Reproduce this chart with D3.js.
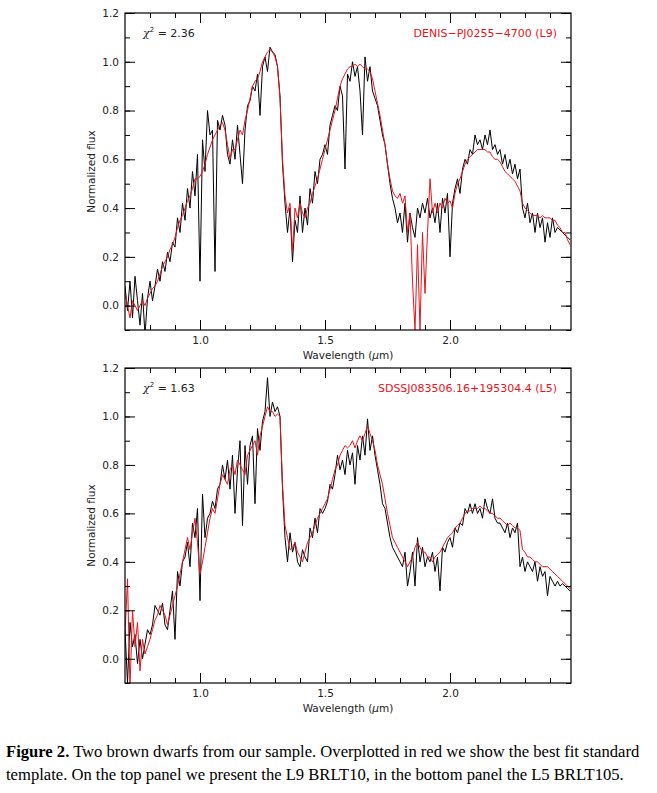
<!DOCTYPE html>
<html>
<head>
<meta charset="utf-8">
<script src="https://cdn.jsdelivr.net/npm/d3@7"></script>
<style>
  body { margin: 0; background: #fff; }
  svg text { font-family: "DejaVu Sans", sans-serif; }
  .caption { position: absolute; left: 6px; top: 740px; width: 651px; font-family: "Liberation Serif", serif; font-size: 16.6px; line-height: 23px; }
</style>
</head>
<body>
<svg id="chart" width="657" height="793"></svg>
<div class="caption"><b>Figure 2.</b> Two brown dwarfs from our sample. Overplotted in red we show the best fit standard template. On the top panel we present the L9 BRLT10, in the bottom panel the L5 BRLT105.</div>
<script>
// wavelength grid, 0.70 - 2.48 um in 0.01 steps
var wave = d3.range(179).map(function(i){ return +(0.70 + i * 0.01).toFixed(2); });

var topBlack = [
 0.08,-0.02,0.10,-0.05,0.12,0.02,-0.08,0.05,-0.12,0.03,
 0.10,0.02,0.08,0.15,0.10,0.18,0.14,0.22,0.18,0.26,
 0.24,0.36,0.30,0.42,0.35,0.48,0.40,0.55,0.45,0.62,
 0.10,0.68,0.55,0.80,0.70,0.72,0.14,0.76,0.72,0.78,
 0.74,0.62,0.58,0.68,0.60,0.74,0.62,0.50,0.72,0.82,
 0.84,0.90,0.88,0.95,0.78,0.98,1.02,0.96,1.06,1.04,
 1.03,0.98,0.86,0.58,0.42,0.30,0.40,0.18,0.35,0.30,
 0.45,0.30,0.40,0.33,0.48,0.42,0.55,0.50,0.60,0.62,
 0.66,0.62,0.74,0.78,0.82,0.80,0.90,0.86,0.56,0.95,
 0.92,1.00,0.94,0.98,0.88,0.70,1.02,0.92,0.98,0.88,
 0.85,0.82,0.76,0.70,0.66,0.58,0.50,0.44,0.40,0.34,
 0.38,0.30,0.42,0.26,0.38,0.32,0.28,0.40,0.36,0.42,
 0.38,0.44,0.36,0.40,0.34,0.42,0.30,0.44,0.38,0.46,
 0.20,0.42,0.48,0.52,0.46,0.56,0.60,0.58,0.64,0.62,
 0.70,0.66,0.68,0.64,0.70,0.66,0.72,0.64,0.66,0.62,
 0.64,0.58,0.62,0.56,0.60,0.54,0.58,0.52,0.56,0.40,
 0.36,0.42,0.34,0.38,0.30,0.38,0.32,0.36,0.26,0.34,
 0.28,0.36,0.30,0.32,0.31,0.30,0.29,0.28,0.27];

var topRed = [
 0.05,0.00,-0.05,0.02,0.00,-0.02,0.00,0.02,0.00,0.03,
 0.05,0.07,0.08,0.10,0.13,0.16,0.18,0.20,0.23,0.25,
 0.28,0.32,0.35,0.37,0.40,0.43,0.45,0.48,0.52,0.52,
 0.53,0.55,0.58,0.62,0.65,0.68,0.70,0.72,0.74,0.75,
 0.72,0.66,0.60,0.64,0.64,0.68,0.72,0.70,0.76,0.80,
 0.85,0.90,0.92,0.93,0.96,1.00,1.02,1.04,1.05,1.04,
 1.02,0.98,0.85,0.60,0.45,0.38,0.42,0.22,0.40,0.36,
 0.42,0.38,0.36,0.40,0.42,0.46,0.49,0.52,0.56,0.60,
 0.64,0.68,0.72,0.76,0.80,0.85,0.90,0.93,0.95,0.97,
 0.98,0.98,0.99,0.98,0.99,0.98,0.97,0.97,0.96,0.93,
 0.88,0.83,0.78,0.72,0.66,0.58,0.52,0.47,0.45,0.44,
 0.46,0.42,0.45,0.30,0.38,0.10,-0.10,0.25,-0.10,0.30,
 0.05,0.30,0.52,0.38,0.42,0.38,0.42,0.40,0.44,0.42,
 0.43,0.40,0.46,0.50,0.52,0.55,0.58,0.60,0.61,0.62,
 0.63,0.64,0.64,0.64,0.64,0.63,0.63,0.61,0.60,0.60,
 0.59,0.57,0.55,0.54,0.53,0.52,0.51,0.49,0.47,0.42,
 0.40,0.39,0.38,0.37,0.37,0.37,0.36,0.37,0.36,0.36,
 0.36,0.35,0.35,0.33,0.32,0.30,0.30,0.27,0.25];

var botBlack = [
 0.12,-0.10,0.15,0.05,0.10,-0.02,0.08,0.00,0.06,0.12,
 0.10,0.14,0.22,0.20,0.18,0.23,0.14,0.12,0.20,0.28,
 0.08,0.36,0.30,0.40,0.42,0.48,0.38,0.56,0.50,0.62,
 0.24,0.68,0.50,0.58,0.60,0.65,0.62,0.70,0.72,0.80,
 0.74,0.82,0.70,0.84,0.60,0.78,0.90,0.55,0.88,0.72,
 0.88,0.92,0.64,0.95,0.86,0.98,1.02,1.16,1.00,1.06,
 1.02,1.04,1.00,0.70,0.50,0.40,0.52,0.44,0.48,0.40,
 0.38,0.45,0.42,0.40,0.54,0.50,0.58,0.52,0.62,0.60,
 0.62,0.65,0.72,0.70,0.76,0.84,0.78,0.82,0.76,0.86,
 0.80,0.85,0.72,0.88,0.82,0.92,0.84,0.99,0.86,0.92,
 0.84,0.78,0.72,0.64,0.62,0.56,0.50,0.46,0.44,0.42,
 0.40,0.38,0.44,0.30,0.36,0.44,0.30,0.50,0.40,0.46,
 0.38,0.42,0.40,0.44,0.36,0.42,0.28,0.46,0.44,0.48,
 0.50,0.46,0.54,0.52,0.56,0.55,0.62,0.60,0.64,0.60,
 0.64,0.60,0.62,0.58,0.66,0.62,0.60,0.66,0.58,0.56,
 0.56,0.54,0.52,0.56,0.50,0.54,0.52,0.56,0.38,0.42,
 0.36,0.40,0.38,0.36,0.40,0.32,0.38,0.34,0.36,0.26,
 0.34,0.32,0.30,0.32,0.30,0.31,0.30,0.29,0.28];

var botRed = [
 0.10,0.33,-0.12,0.20,0.05,0.15,-0.05,0.08,0.02,0.05,
 0.08,0.12,0.16,0.18,0.22,0.20,0.18,0.14,0.18,0.22,
 0.26,0.30,0.35,0.40,0.45,0.50,0.45,0.52,0.58,0.48,
 0.35,0.40,0.46,0.52,0.58,0.62,0.60,0.66,0.72,0.76,
 0.74,0.72,0.78,0.80,0.76,0.82,0.80,0.78,0.76,0.84,
 0.86,0.88,0.90,0.84,0.92,0.96,1.00,1.04,1.02,1.02,
 1.00,1.01,1.00,0.72,0.55,0.50,0.45,0.46,0.48,0.44,
 0.42,0.40,0.44,0.48,0.50,0.52,0.55,0.58,0.60,0.62,
 0.64,0.66,0.70,0.74,0.78,0.80,0.84,0.86,0.88,0.87,
 0.88,0.90,0.87,0.90,0.92,0.90,0.93,0.96,0.93,0.90,
 0.86,0.80,0.76,0.72,0.66,0.60,0.55,0.50,0.48,0.46,
 0.44,0.42,0.40,0.38,0.40,0.42,0.46,0.48,0.46,0.44,
 0.44,0.42,0.42,0.40,0.42,0.43,0.44,0.46,0.48,0.50,
 0.51,0.52,0.54,0.55,0.56,0.58,0.60,0.61,0.61,0.62,
 0.62,0.62,0.63,0.62,0.62,0.61,0.60,0.60,0.59,0.58,
 0.58,0.57,0.56,0.55,0.56,0.55,0.54,0.54,0.53,0.45,
 0.44,0.42,0.42,0.41,0.40,0.40,0.39,0.38,0.38,0.38,
 0.37,0.36,0.35,0.34,0.33,0.32,0.31,0.30,0.29];

var xMajor = [1.0, 1.5, 2.0];
var yMajor = [0.0, 0.2, 0.4, 0.6, 0.8, 1.0, 1.2];

var panels = [
  { top: 13, bottom: 330, black: topBlack, red: topRed, chi: "2.36", name: "DENIS\u2212PJ0255\u22124700 (L9)" },
  { top: 368, bottom: 683, black: botBlack, red: botRed, chi: "1.63", name: "SDSSJ083506.16+195304.4 (L5)" }
];

var svg = d3.select("#chart");
var left = 125, right = 571;
var x = d3.scaleLinear().domain([0.7, 2.484]).range([left, right]);

panels.forEach(function(p, k) {
  var y = d3.scaleLinear().domain([-0.1, 1.2]).range([p.bottom, p.top]);
  var g = svg.append("g");
  var clipId = "clip" + k;
  g.append("clipPath").attr("id", clipId).append("rect")
    .attr("x", left).attr("y", p.top).attr("width", right - left).attr("height", p.bottom - p.top);

  var line = d3.line().x(function(d, i){ return x(wave[i]); }).y(function(d){ return y(d); });
  var plot = g.append("g").attr("clip-path", "url(#" + clipId + ")");
  plot.append("path").datum(p.black).attr("d", line).attr("fill", "none").attr("stroke", "#000").attr("stroke-width", 1);
  plot.append("path").datum(p.red).attr("d", line).attr("fill", "none").attr("stroke", "#e8141b").attr("stroke-width", 1);

  // axes with inward ticks on all four sides
  var xMinor = d3.range(8, 25).map(function(v){ return v / 10; });
  var yMinor = d3.range(-1, 13).map(function(v){ return v / 10; });
  var bx = d3.axisBottom(x).tickValues(xMinor).tickSize(-5).tickFormat("");
  var tx = d3.axisTop(x).tickValues(xMinor).tickSize(-5).tickFormat("");
  var bxMaj = d3.axisBottom(x).tickValues(xMajor).tickSize(-10).tickPadding(7).tickFormat(d3.format(".1f"));
  var txMaj = d3.axisTop(x).tickValues(xMajor).tickSize(-10).tickFormat("");
  var ly = d3.axisLeft(y).tickValues(yMinor).tickSize(-5).tickFormat("");
  var ry = d3.axisRight(y).tickValues(yMinor).tickSize(-5).tickFormat("");
  var lyMaj = d3.axisLeft(y).tickValues(yMajor).tickSize(-10).tickPadding(6).tickFormat(d3.format(".1f"));
  var ryMaj = d3.axisRight(y).tickValues(yMajor).tickSize(-10).tickFormat("");

  [[bx, "translate(0," + p.bottom + ")"], [bxMaj, "translate(0," + p.bottom + ")"],
   [tx, "translate(0," + p.top + ")"], [txMaj, "translate(0," + p.top + ")"],
   [ly, "translate(" + left + ",0)"], [lyMaj, "translate(" + left + ",0)"],
   [ry, "translate(" + right + ",0)"], [ryMaj, "translate(" + right + ",0)"]].forEach(function(a) {
    var ag = g.append("g").attr("transform", a[1]).call(a[0]);
    ag.select(".domain").remove();
    ag.selectAll("text").attr("font-size", 10.5).attr("fill", "#222").style("font-family", "DejaVu Sans");
  });
  g.append("rect").attr("x", left).attr("y", p.top).attr("width", right - left).attr("height", p.bottom - p.top)
    .attr("fill", "none").attr("stroke", "#000").attr("stroke-width", 1.2);

  g.append("text").attr("x", (left + right) / 2).attr("y", p.bottom + 29).attr("text-anchor", "middle")
    .attr("font-size", 10.5).attr("fill", "#222").html("Wavelength (<tspan font-style='italic'>\u03bc</tspan>m)");
  g.append("text").attr("transform", "translate(95," + ((p.top + p.bottom) / 2) + ") rotate(-90)")
    .attr("text-anchor", "middle").attr("font-size", 10.5).attr("fill", "#222").text("Normalized flux");

  var chi = g.append("text").attr("x", 143).attr("y", p.top + 24).attr("font-size", 11).attr("fill", "#222");
  chi.append("tspan").attr("font-style", "italic").attr("font-family", "DejaVu Serif").text("\u03c7");
  chi.append("tspan").attr("dy", -5).attr("font-size", 7).text("2");
  chi.append("tspan").attr("dy", 5).text(" = " + p.chi);
  g.append("text").attr("x", right - 14).attr("y", p.top + 24).attr("text-anchor", "end")
    .attr("font-size", 11).attr("fill", "#e8141b").text(p.name);
});
</script>
</body>
</html>
